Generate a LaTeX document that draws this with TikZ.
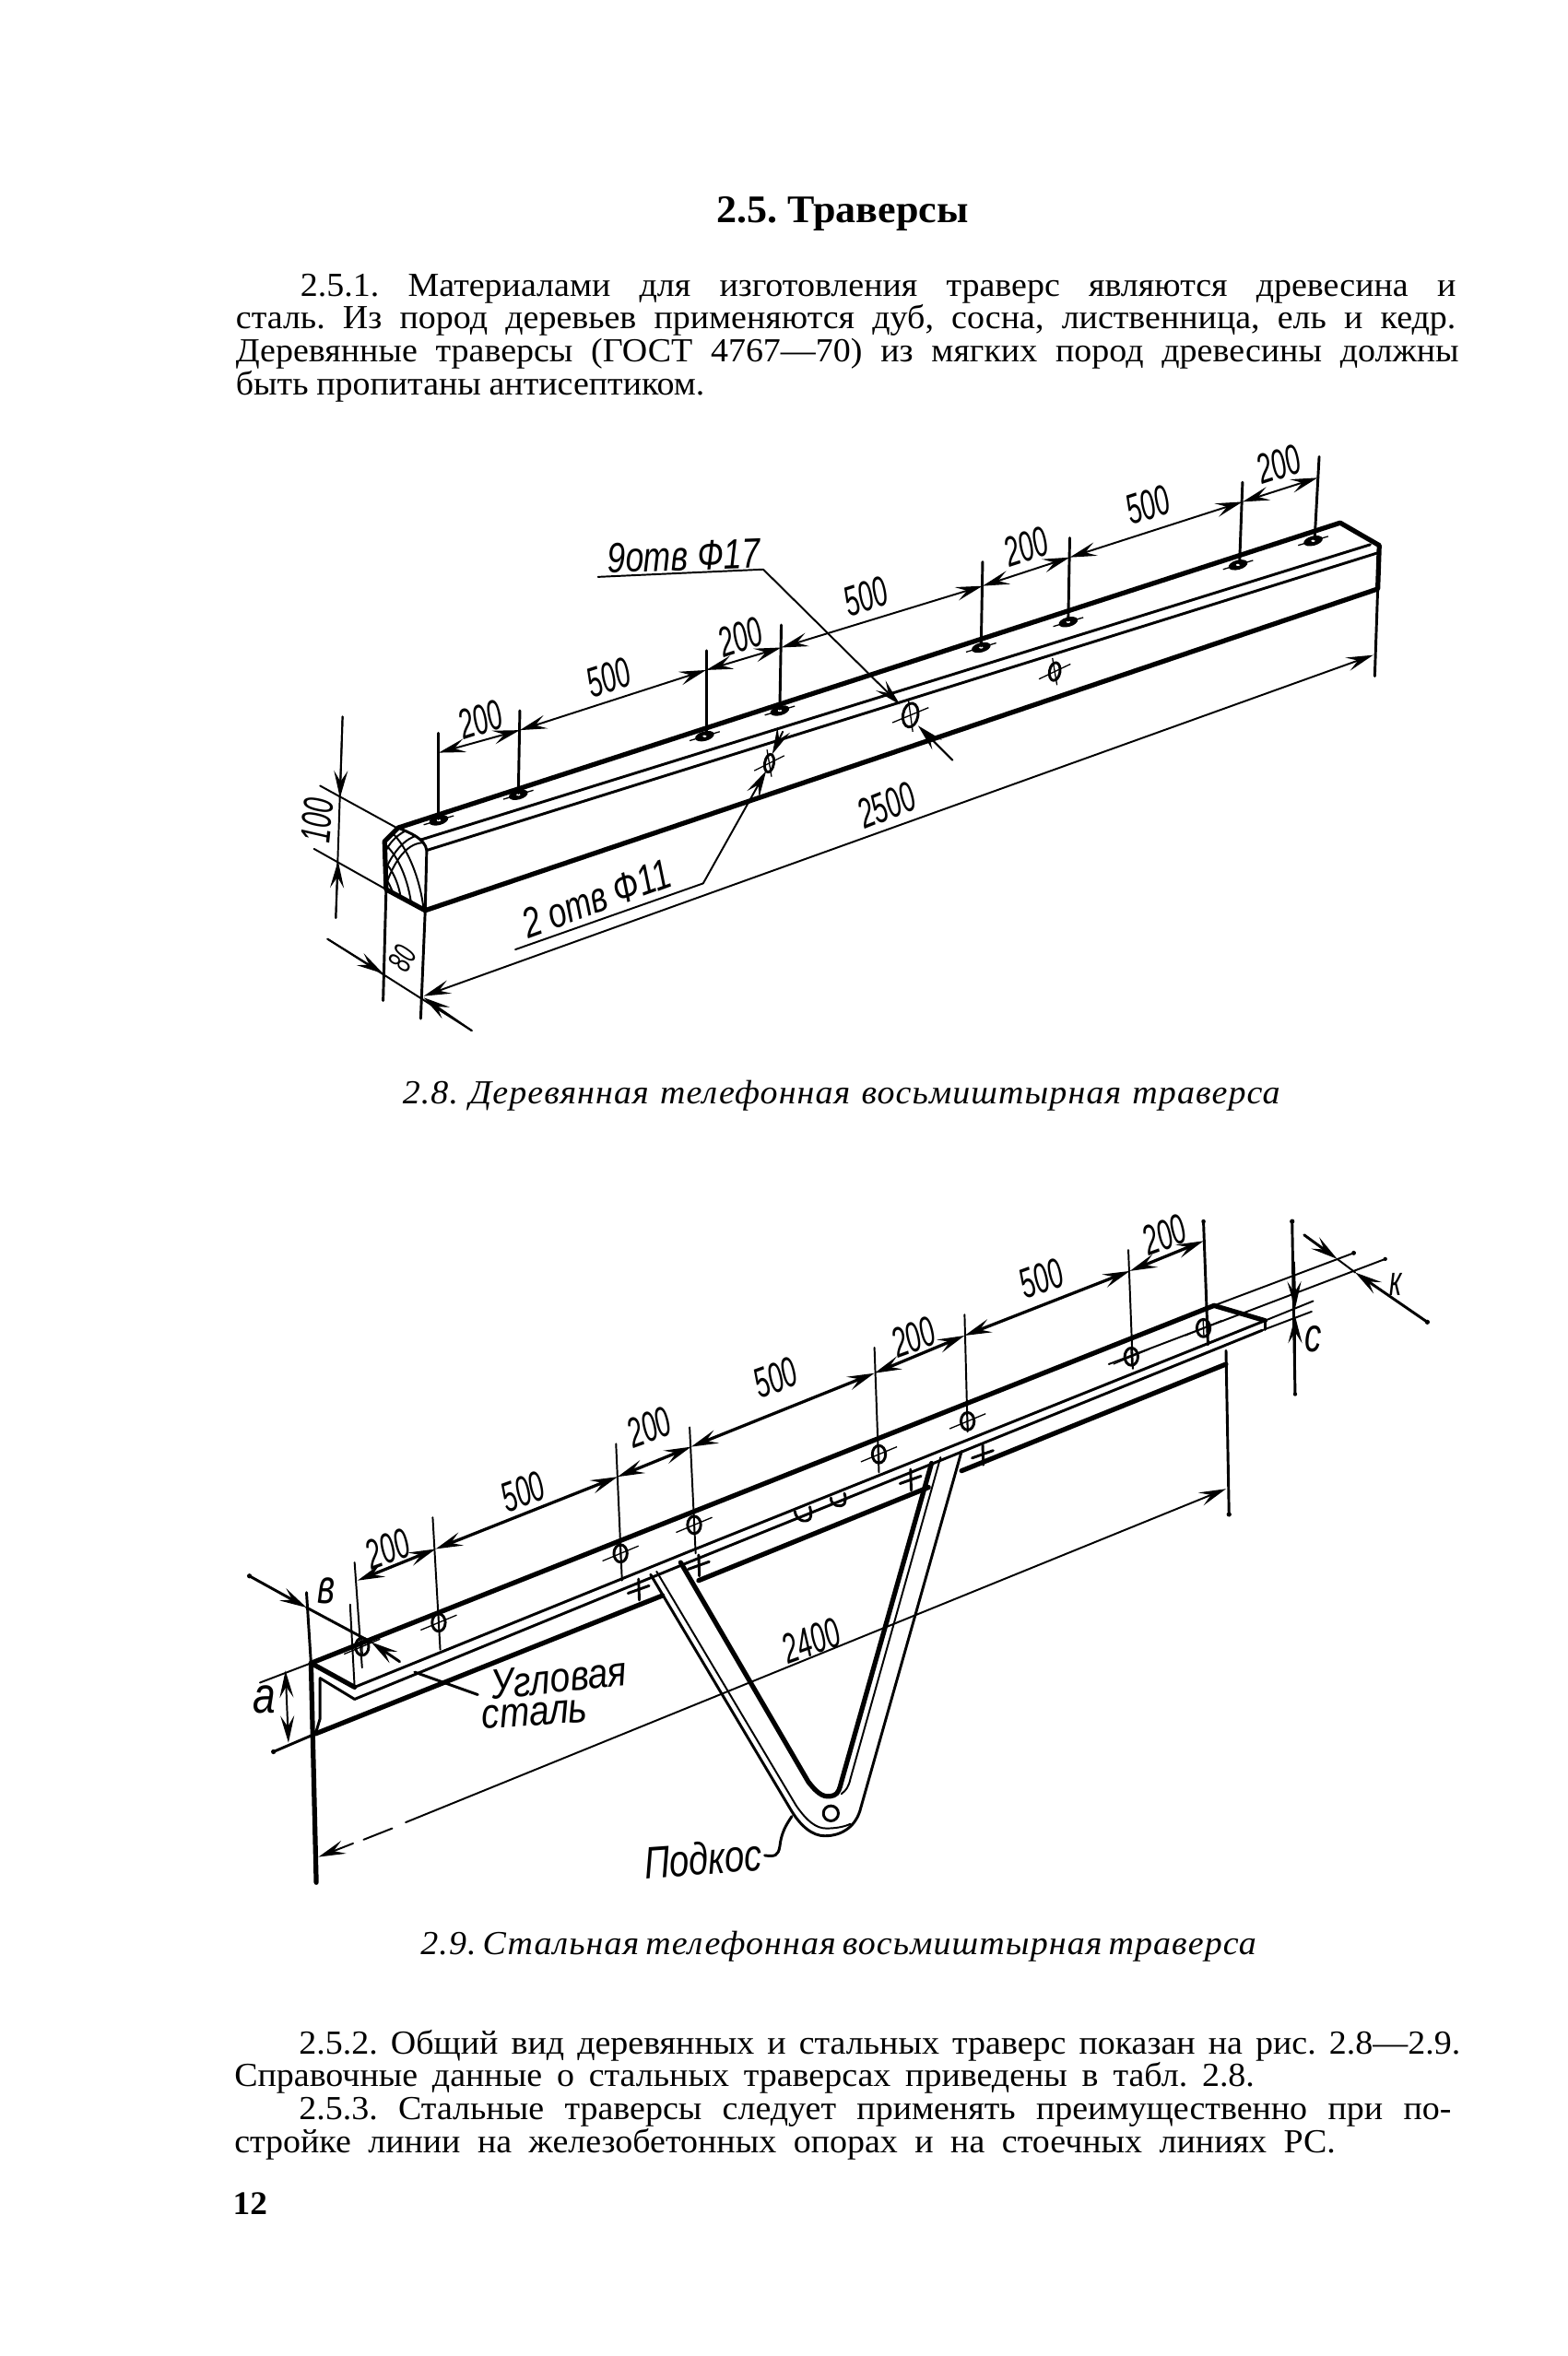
\documentclass[tikz,border=0pt]{standalone}
\usepackage{fontspec}
\usepackage{graphicx}
\setmainfont[FakeStretch=1.04]{Liberation Serif}
\newfontfamily\drafont{Liberation Sans}
\usetikzlibrary{arrows.meta}
\newlength{\unitpx}\setlength{\unitpx}{0.5pt}
\frenchspacing
\newcommand{\bodyline}[5]{\node[txt] (#1) at (#2,#3) {\makebox[#4\unitpx][s]{#5}};}
\newcommand{\capline}[5]{\node[txt] (#1) at (#2,#3) {\itshape\addfontfeature{LetterSpace=3}\makebox[#4\unitpx][s]{#5}};}
\newcommand{\dra}[1]{\scalebox{.62}[1]{\fontsize{14}{14}\selectfont\drafont\itshape #1}}
\newcommand{\drw}[3]{\scalebox{#1}[1]{\fontsize{#2}{#2}\selectfont\drafont\itshape #3}}
\tikzset{
  txt/.style={anchor=base west,inner sep=0pt,outer sep=0pt,font=\fontsize{11.2}{12}\selectfont},
  dlab/.style={inner sep=0pt,outer sep=0pt},
  hv/.style={line width=1.6pt,line cap=round,line join=round},
  md/.style={line width=.9pt,line cap=round,line join=round},
  tn/.style={line width=.6pt,line cap=round,line join=round},
  tiplook/.style={>={Stealth[length=9pt,width=4.6pt,inset=3.6pt]}},
  dm/.style={tn,tiplook},
  dmb/.style={line width=1pt,line cap=round,tiplook},
  tickh/.style={line width=.4pt},
}
\newcommand{\tophole}[2]{\fill (#1,#2) ellipse [x radius=6.5,y radius=3.2,rotate=15];
  \draw[tickh] (#1-10,#2+3) -- (#1+10,#2-3); \fill[white] (#1,#2) ellipse [x radius=1.3,y radius=.7];}
\newcommand{\sidehole}[4]{\draw[md] (#1,#2) ellipse [x radius=#3,y radius=#4,rotate=-10];
  \draw[tickh] (#1-#3-7,#2+5) -- (#1+#3+7,#2-5); \draw[tickh] (#1-1.5,#2-#4-3) -- (#1+1.5,#2+#4+3);}
\newcommand{\flathole}[2]{\draw[md] (#1,#2) ellipse [x radius=4.4,y radius=5.8];
  \draw[tickh] (#1-12,#2+5) -- (#1+12,#2-5); \draw[tickh] (#1-.3,#2-6) -- (#1+.3,#2+6);}
\newcommand{\plusmark}[2]{\draw[md] (#1-7,#2+2.5) -- (#1+7,#2-2.5); \draw[md] (#1,#2-7) -- (#1+.5,#2+7);}
\begin{document}
\begin{tikzpicture}[x=\unitpx,y=-\unitpx]
\useasboundingbox (0,0) rectangle (1043.6,1568.2);
\fill[white] (0,0) rectangle (1043.6,1568.2);

% ---------- page text
\node[txt,font=\fontsize{13}{14}\selectfont\bfseries] (title) at (477,148) {2.5. Траверсы};
\bodyline{l1}{200}{197}{769}{2.5.1. Материалами для изготовления траверс являются древесина и}
\bodyline{l2}{157}{219}{812}{сталь. Из пород деревьев применяются дуб, сосна, лиственница, ель и кедр.}
\bodyline{l3}{157}{241}{814}{Деревянные траверсы (ГОСТ 4767—70) из мягких пород древесины должны}
\bodyline{l4}{157}{263}{312}{быть пропитаны антисептиком.}
\capline{c1}{268}{735}{584}{2.8. Деревянная телефонная восьмиштырная траверса}
\capline{c2}{280}{1301}{556}{2.9. Стальная телефонная восьмиштырная траверса}
\bodyline{l5}{199}{1367}{773}{2.5.2. Общий вид деревянных и стальных траверс показан на рис. 2.8—2.9.}
\bodyline{l6}{156}{1389}{679}{Справочные данные о стальных траверсах приведены в табл. 2.8.}
\bodyline{l7}{199}{1411}{767}{2.5.3. Стальные траверсы следует применять преимущественно при по-}
\bodyline{l8}{156}{1433}{733}{стройке линии на железобетонных опорах и на стоечных линиях РС.}
\node[txt,font=\fontsize{11}{12}\selectfont\bfseries] (pg) at (155,1474) {12};

% ---------- Figure 2.8 : wooden cross-arm
% body
\draw[hv] (265,551) -- (892,348) -- (918,363) -- (917,392) -- (283,606) -- (257,592) -- (256,560) -- cycle;
\draw[md] (265,551) .. controls (272,554) and (283,558) .. (284,566) -- (283,606);
\draw[md] (280,559) -- (912,362.5);
\draw[md] (284,566) -- (917,368);
% wood grain
\begin{scope}
\clip (265,551) .. controls (272,554) and (283,558) .. (284,566) -- (283,606) -- (257,592) -- (256,560) -- cycle;
\draw[tn] (256,592) .. controls (262,572) and (272,560) .. (283,561);
\draw[tn] (256,580) .. controls (262,566) and (270,558) .. (278,556);
\draw[tn] (256,568) .. controls (259,561) and (264,556) .. (270,553);
\draw[tn] (258,552) .. controls (270,560) and (280,585) .. (282,606);
\draw[tn] (256,562) .. controls (264,568) and (272,585) .. (274,604);
\draw[tn] (256,574) .. controls (260,577) and (266,588) .. (267,600);
\draw[tn] (256,584) .. controls (258,586) and (261,592) .. (262,596);
\end{scope}
% end extensions and dimension 100 / 80 / 2500
\draw[tn] (213,523) -- (264,551);
\draw[tn] (209,565) -- (257,592);
\draw[dm] (228,477) -- (223.5,611);
\draw[dm,->] (228,477) -- (226.3,531);
\draw[dm,->] (223.5,611) -- (225,573);
\node[dlab,rotate=84] (d100) at (211,546) {\dra{100}};
\draw[md] (257,592) -- (255,666);
\draw[md] (283,606) -- (280,678);
\draw[tn] (218,625) -- (314,686);
\draw[dm,->] (218,625) -- (255,648);
\draw[dm,->] (314,686) -- (282,664);
\node[dlab,rotate=62] (d80) at (268,638) {\drw{.62}{11}{80}};
\draw[md] (917,392) -- (915,450);
\draw[dm,<->] (282,663) -- (914,436);
\node[dlab,rotate=22] (d2500) at (590,536) {\dra{2500}};
% holes on top
\foreach \x/\y in {292/546,345/529,469/490,519/473,653/431,711/414,824/376,874/360}{\tophole{\x}{\y}}
% extension lines for hole spacing
\draw[md] (292,488) -- (292,545);
\draw[md] (346,473) -- (345,528);
\draw[md] (470,433) -- (470,489);
\draw[md] (520,416) -- (519,472);
\draw[md] (654,374) -- (653,430);
\draw[md] (712,358) -- (711,413);
\draw[md] (827,321) -- (825,375);
\draw[md] (878,304) -- (875,359);
% dimension chain
\draw[dm,<->] (292,501) -- (346,486);
\draw[dm,<->] (346,486) -- (470,446);
\draw[dm,<->] (470,446) -- (520,431);
\draw[dm,<->] (520,431) -- (654,390);
\draw[dm,<->] (654,390) -- (712,371);
\draw[dm,<->] (712,371) -- (827,334);
\draw[dm,<->] (827,334) -- (877,318);
\node[dlab,rotate=18] (a1) at (320,479) {\dra{200}};
\node[dlab,rotate=18] (a2) at (405,451) {\dra{500}};
\node[dlab,rotate=18] (a3) at (493,424) {\dra{200}};
\node[dlab,rotate=18] (a4) at (576,397) {\dra{500}};
\node[dlab,rotate=18] (a5) at (683,364) {\dra{200}};
\node[dlab,rotate=18] (a6) at (764,336) {\dra{500}};
\node[dlab,rotate=18] (a7) at (851,309) {\dra{200}};
% side holes and leaders
\sidehole{512}{508}{3}{6}
\sidehole{702}{447}{3.5}{6}
\sidehole{606}{476}{5}{8}
\draw[tn] (398,384) -- (508,379);
\node[dlab,rotate=2] (l9) at (455,370) {\drw{.78}{14}{9отв Ф17}};
\draw[dm,->] (508,379) -- (599,469);
\draw[dm,->] (634,506) -- (611,483);
\draw[tn] (343,632) -- (468,588);
\node[dlab,rotate=20] (l2o) at (397,598) {\drw{.76}{14}{2 отв Ф11}};
\draw[dm,->] (468,588) -- (510,513);
\draw[dm,->] (521,487) -- (514,502);

% ---------- Figure 2.9 : steel cross-arm
% strut
\draw[md] (433,1048) -- (526,1204) .. controls (533,1216) and (541,1222) .. (549,1222)
  .. controls (560,1222) and (570,1216) .. (573,1203) -- (640,966);
\draw[tn] (437,1046) -- (530,1202) .. controls (537,1212) and (543,1217) .. (550,1217)
  .. controls (556,1217) and (562,1216) .. (566,1214);
\draw[hv] (453,1040) -- (538,1186) .. controls (545,1195) and (549,1197) .. (555,1195)
  .. controls (558,1194) and (559,1190) .. (560,1186) -- (620,974);
\draw[tn] (560,1194) .. controls (563,1192) and (565,1189) .. (566,1184) -- (626,970);
\draw[md] (553,1207) circle [radius=5];
% long edges
\draw[hv] (207,1107) -- (808,869);
\draw[hv] (808,869) -- (842,879);
\draw[md] (842,879) -- (842,885);
\draw[tn] (808,869) -- (901,834);
\fill (901,834) circle [radius=1.5];
\draw[tn] (738,908) -- (922,838);
\fill (922,838) circle [radius=1.3];
\draw[hv] (207,1107) -- (236,1123);
\draw[md] (236,1123) -- (458,1033) -- (842,879);
\draw[tn] (842,879) -- (874,866);
\draw[md] (236,1131) -- (458,1040) -- (840,885.5);
\draw[tn] (840,885.5) -- (873,873);
\draw[md] (213,1117) -- (236,1131);
\draw[md] (213,1117) -- (213,1144) -- (210,1154);
\draw[hv] (210,1154) -- (441,1062);
\draw[hv] (465,1052) -- (618,990);
\draw[hv] (640,979) -- (816,908);
\draw[md] (816,899) -- (818,1008);
\fill (818,1008) circle [radius=1.6];
% left verticals
\draw[md] (204,1060) -- (207,1107);
\draw[hv] (207,1107) -- (210.5,1253);
\draw[tn] (233,1068) -- (236,1123);
% a and b dimensions
\draw[tn] (173,1120) -- (207,1107);
\draw[md] (182,1166) -- (210,1154);
\fill (182,1166) circle [radius=1.6];
\draw[dm,<->] (190,1112) -- (192,1160);
\node[dlab] (da) at (176,1131) {\drw{.8}{17}{a}};
\draw[md,tiplook,->] (166,1049) -- (204,1070);
\fill (166,1049) circle [radius=1.6];
\draw[md,tiplook,->] (266,1106) -- (247,1093);
\draw[md] (204,1070) -- (247,1093);
\node[dlab] (db) at (217,1059) {\drw{.7}{16}{в}};
% holes on flange
\foreach \x/\y in {241/1096,292/1080,413/1034,462/1015,585/968,644/946,753/903,801/884}{\flathole{\x}{\y}}
\plusmark{425}{1058}\plusmark{465}{1042}\plusmark{606}{985}\plusmark{654}{968}
\draw[md] (529,1006) .. controls (530,1012) and (536,1014) .. (539,1011) .. controls (540,1009) and (540,1007) .. (539,1003);
\draw[md] (553,997) .. controls (553,1002) and (559,1004) .. (562,1001) .. controls (563,999) and (563,997) .. (562,994);
% extension lines
\draw[tn] (236,1040) -- (241,1110);
\draw[tn] (288,1010) -- (293,1098);
\draw[tn] (410,961) -- (414,1052);
\draw[tn] (459,950) -- (463,1034);
\draw[tn] (582,897) -- (585,980);
\draw[tn] (642,875) -- (644,953);
\draw[tn] (751,832) -- (754,911);
\draw[md] (801,813) -- (804,895);
\fill (801,813) circle [radius=1.4];
% dimension chain
\draw[dmb,<->] (238,1052) -- (290,1031);
\draw[dmb,<->] (290,1031) -- (411,983);
\draw[dmb,<->] (411,983) -- (460,963);
\draw[dmb,<->] (460,963) -- (582,914);
\draw[dmb,<->] (582,914) -- (642,889);
\draw[dmb,<->] (642,889) -- (752,846);
\draw[dmb,<->] (752,846) -- (801,826);
\node[dlab,rotate=20] (b1) at (258,1031) {\dra{200}};
\node[dlab,rotate=20] (b2) at (348,993) {\dra{500}};
\node[dlab,rotate=20] (b3) at (432,950) {\dra{200}};
\node[dlab,rotate=20] (b4) at (516,917) {\dra{500}};
\node[dlab,rotate=20] (b5) at (608,890) {\dra{200}};
\node[dlab,rotate=20] (b6) at (693,851) {\dra{500}};
\node[dlab,rotate=20] (b7) at (775,822) {\dra{200}};
% 2400
\draw[dm,->] (270,1213) -- (816,991);
\draw[dm,->] (235,1227) -- (212,1236);
\draw[tn] (242,1224.5) -- (261,1217);
\node[dlab,rotate=20] (d2400) at (540,1092) {\dra{2400}};
% right side dimensions c, k
\draw[md] (860,813) -- (862,928);
\fill (860,813) circle [radius=1.6];
\fill (862,928) circle [radius=1.3];
\draw[md,tiplook,->] (861,840) -- (862,871);
\draw[md,tiplook,->] (862,905) -- (862,876);
\node[dlab] (dc) at (874,891) {\drw{.7}{16}{с}};
\draw[md,tiplook,->] (868,822) -- (890,838);
\draw[md,tiplook,->] (950,880) -- (902,847);
\draw[tn] (890,838) -- (902,847);
\fill (950,880) circle [radius=1.6];
\node[dlab] (dk) at (929,855) {\dra{к}};
% labels with leaders
\draw[md] (276,1113) -- (318,1128);
\node[dlab,rotate=6] (ug) at (372,1117) {\drw{.85}{14}{Угловая}};
\node[dlab,rotate=4] (st) at (356,1141) {\drw{.85}{14}{сталь}};
\node[dlab,rotate=4] (pd) at (468,1237) {\drw{.78}{15}{Подкос}};
\draw[md] (509,1235) .. controls (516,1236) and (518,1235) .. (519,1229) .. controls (520,1220) and (523,1215) .. (527,1209);
\end{tikzpicture}
\end{document}
